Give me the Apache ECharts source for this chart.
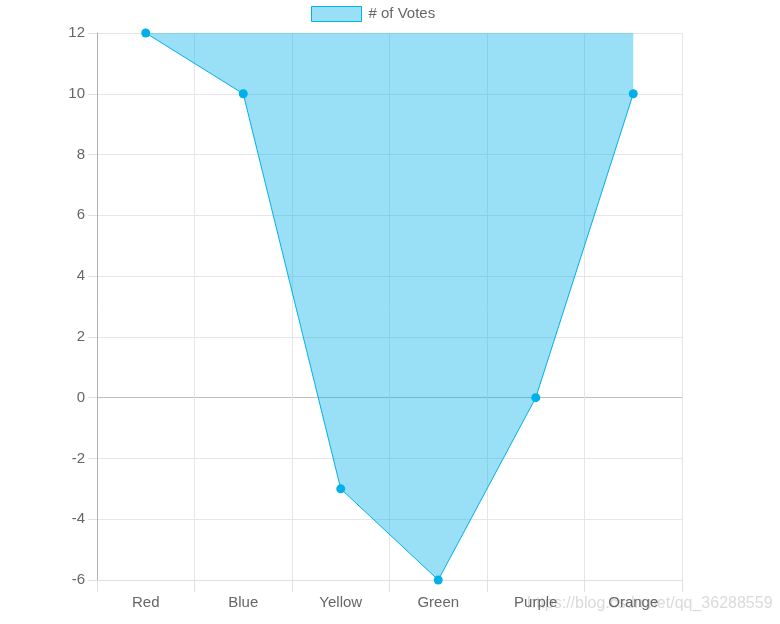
<!DOCTYPE html>
<html>
<head>
<meta charset="utf-8">
<script src="https://cdn.jsdelivr.net/npm/echarts@6/dist/echarts.min.js"></script>
<style>html,body{margin:0;padding:0;background:#fff;}#c{width:780px;height:624px;}</style>
</head>
<body>
<div id="c"></div>
<script>
var categories = ['Red', 'Blue', 'Yellow', 'Green', 'Purple', 'Orange'];
var votes = [12, 10, -3, -6, 0, 10];
var seriesName = '# of Votes';
var yMin = -6, yMax = 12, yStep = 2;

var chart = echarts.init(document.getElementById('c'));
var font = 'Liberation Sans, Arial, sans-serif';
var splitColors = [];
for (var v = yMin; v <= yMax; v += yStep) splitColors.push(v === 0 ? '#bdbdbd' : '#e6e6e6');

chart.setOption({
  animation: false,
  textStyle: { fontFamily: font },
  legend: {
    top: 6, left: 311, padding: 0,
    itemWidth: 50, itemHeight: 15, itemGap: 6,
    icon: 'rect',
    textStyle: { color: '#666', fontSize: 15, fontFamily: font, padding: [0, 0, 0, 2] },
    data: [{ name: seriesName, itemStyle: { color: 'rgba(0,176,232,0.4)', borderColor: '#00b0e8', borderWidth: 1 } }]
  },
  grid: { left: 97, right: 98, top: 33, bottom: 44 },
  xAxis: {
    type: 'category',
    data: categories,
    boundaryGap: true,
    axisLine: { onZero: false, lineStyle: { color: '#e0e0e0' } },
    axisTick: { show: true, length: 12, lineStyle: { color: '#e0e0e0' } },
    axisLabel: { color: '#666', fontSize: 15, margin: 15, fontFamily: font },
    splitLine: { show: true, lineStyle: { color: '#e6e6e6' } }
  },
  yAxis: {
    type: 'value',
    min: yMin, max: yMax, interval: yStep,
    axisLine: { show: true, lineStyle: { color: '#b0b0b0' } },
    axisTick: { show: true, length: 9, lineStyle: { color: '#e0e0e0' } },
    axisLabel: { color: '#666', fontSize: 15, margin: 12, fontFamily: font },
    splitLine: { show: true, lineStyle: { color: splitColors } }
  },
  graphic: [{
    type: 'text', left: 527, top: 596, silent: true,
    style: { text: 'https://blog.csdn.net/qq_36288559', fill: 'rgba(205,205,205,0.75)', font: '16px ' + font }
  }],
  series: [{
    name: seriesName,
    type: 'line',
    data: votes,
    symbol: 'circle',
    symbolSize: 9,
    showSymbol: true,
    lineStyle: { color: '#00b0e8', width: 1 },
    itemStyle: { color: '#00b0e8' },
    areaStyle: { origin: 'end', color: 'rgba(0,176,232,0.4)', opacity: 1 }
  }]
});
</script>
</body>
</html>
